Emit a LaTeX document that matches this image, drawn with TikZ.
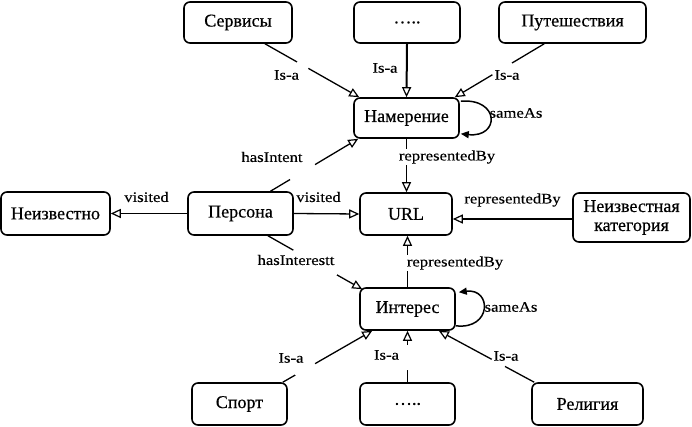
\documentclass[tikz,border=0pt]{standalone}
\usepackage{fontspec}
\setmainfont{Liberation Serif}
\newfontfamily\boxfont[FakeBold=0.5]{Liberation Serif}
\newfontfamily\lblfont[FakeStretch=1.15,FakeBold=0.3]{Liberation Serif}
\usetikzlibrary{arrows.meta,calc}
\begin{document}
\begin{tikzpicture}[x=1pt,y=-1pt,
  box/.style={draw, line width=1.6pt, rounded corners=6pt, inner sep=0pt, align=center,
              font=\boxfont\fontsize{18}{19}\selectfont},
  lbl/.style={fill=white, inner sep=1pt, font=\lblfont\fontsize{14.5}{15}\selectfont},
  lblnf/.style={inner sep=1pt, font=\lblfont\fontsize{14.5}{15}\selectfont},
  isa/.style={line width=1.3pt, -{Triangle[open,length=10pt,width=9pt,line width=1.2pt]}},
  selfloop/.style={line width=1.5pt, -{Triangle[length=8pt,width=7pt]}},
  brk/.style={circle, fill=white, inner sep=0pt, minimum size=#1}]
\useasboundingbox (0,0) rectangle (692,427);

% nodes
\node[box, minimum width=108, minimum height=41] (serv)  at (238,22.5)   {Сервисы};
\node[box, minimum width=106, minimum height=41] (dotsA) at (407,22.5)   {…..};
\node[box, minimum width=147, minimum height=41] (trav)  at (572.5,22.5) {Путешествия};
\node[box, minimum width=105, minimum height=40] (nam)   at (406.5,118)  {Намерение};
\node[box, minimum width=109, minimum height=43] (neizv) at (55.5,213.5) {Неизвестно};
\node[box, minimum width=105, minimum height=43] (pers)  at (240.5,213.5) {Персона};
\node[box, minimum width=92,  minimum height=42] (url)   at (406,214)    {URL};
\node[box, minimum width=117, minimum height=49] (nk)    at (631.5,217.5) {Неизвестная\\категория};
\node[box, minimum width=95,  minimum height=42] (int)   at (407.5,309)  {Интерес};
\node[box, minimum width=95,  minimum height=42] (sport) at (239.5,404)  {Спорт};
\node[box, minimum width=95,  minimum height=42] (dotsB) at (407.5,404)  {…..};
\node[box, minimum width=111, minimum height=42] (rel)   at (587.5,404)  {Религия};

% edges to Намерение
\draw[isa] ($(serv.south)+(27,0)$) -- node[brk=13, pos=0.4]{} ($(nam.north west)+(6,0)$);
\draw[isa, line width=2pt] (dotsA.south) -- (nam.north);
\draw[isa] ($(trav.south west)+(46,0)$) -- node[brk=23, pos=0.47]{} ($(nam.north east)+(-5,0)$);
\draw[selfloop] ($(nam.north east)+(1,4)$) .. controls (500,98) and (500,138) .. ($(nam.south east)+(1,-5)$);
\draw[isa] ($(pers.north)+(30,0)$) -- node[brk=29, pos=0.365]{} ($(nam.south west)+(5,0)$);

% edges to URL
\draw[isa] (nam.south) -- (nam.south |- url.north);
\draw[isa] (pers.east) -- (url.west);
\draw[isa] (pers.west) -- (neizv.east);
\draw[isa, line width=2pt] ($(nk.west)+(0,1.5)$) -- ($(url.east)+(0,5)$);
\draw[isa] (int.north) -- (int.north |- url.south);

% edges to Интерес
\draw[isa] ($(pers.south)+(27.5,0)$) -- node[brk=50, pos=0.5]{} ($(int.north west)+(3,2)$);
\draw[selfloop] ($(int.south east)+(0,-5)$) .. controls (492,330) and (492,288) .. ($(int.north east)+(3,5)$);
\draw[isa] ($(sport.north east)+(-5,0)$) -- node[brk=23, pos=0.25]{} ($(int.south west)+(13,0)$);
\draw[isa] (dotsB.north) -- node[brk=25, pos=0.48]{} (int.south);
\draw[isa] ($(rel.north west)+(3,0)$) -- node[brk=15, pos=0.376]{} ($(int.south east)+(-17,0)$);

% labels
\node[lbl] (l1)  at (286.5,75)  {Is-a};
\node[lbl] (l2)  at (385,68)    {Is-a};
\node[lbl] (l3)  at (507,75)    {Is-a};
\node[lblnf] (l4) at (516,113)  {sameAs};
\node[lbl] (l5)  at (272,157)   {hasIntent};
\node[lbl] (l6)  at (447,157)   {representedBy};
\node[lbl] (l7)  at (318.5,197) {visited};
\node[lbl] (l8)  at (146.5,197) {visited};
\node[lbl] (l9)  at (512.5,200) {representedBy};
\node[lbl] (l10) at (455,263)   {representedBy};
\node[lbl] (l11) at (296,260)   {hasInterestt};
\node[lblnf] (l12) at (511,307) {sameAs};
\node[lbl] (l13) at (291,358)   {Is-a};
\node[lbl] (l14) at (386.5,355) {Is-a};
\node[lbl] (l15) at (506,356)   {Is-a};
\end{tikzpicture}
\end{document}
